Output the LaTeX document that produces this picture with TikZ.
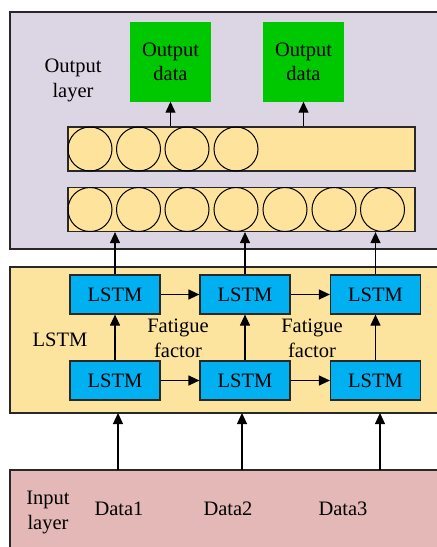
\documentclass[tikz,border=0pt]{standalone}
\usepackage{fontspec}
\setmainfont{Liberation Serif}
\usetikzlibrary{arrows.meta}
\definecolor{outbg}{RGB}{220,214,228}
\definecolor{lstmbg}{RGB}{253,228,158}
\definecolor{inbg}{RGB}{228,184,183}
\definecolor{greenbox}{RGB}{0,200,0}
\definecolor{bluebox}{RGB}{0,176,240}
\definecolor{barfill}{RGB}{253,227,156}
\definecolor{edge}{RGB}{40,40,40}
\begin{document}
\begin{tikzpicture}[x=1pt,y=-1pt,
  txt/.style={font=\fontsize{20.5}{25}\selectfont, align=center, inner sep=0pt},
  panel/.style={draw=edge, line width=1.3pt},
  lstmbox/.style={draw=edge, line width=1.2pt, fill=bluebox, minimum width=90pt, minimum height=39pt, inner sep=0pt, font=\fontsize{20.5}{25}\selectfont},
  outbox/.style={fill=greenbox, minimum width=81pt, minimum height=80pt, inner sep=0pt, font=\fontsize{20.5}{24}\selectfont, align=center},
  bar/.style={draw=edge, line width=1.2pt, fill=barfill, minimum width=347pt, minimum height=44pt, inner sep=0pt},
  unit/.style={circle, draw=black, line width=1pt, minimum size=44pt, inner sep=0pt},
  arr/.style={line width=1.2pt, -{Triangle[length=11pt,width=10pt]}}
]
\clip (0,0) rectangle (437,547);
\fill[white] (0,0) rectangle (437,547);
% panels
\draw[panel, fill=outbg] (10,12) rectangle (450,249);
\draw[panel, fill=lstmbg] (10,267) rectangle (450,413);
\draw[panel, fill=inbg] (10,470) rectangle (450,560);
% output layer
\node[txt] (outlabel) at (73,80) {Output\\layer};
\node[outbox] (o1) at (170.5,61.5) {Output\\data};
\node[outbox] (o2) at (303.5,61.5) {Output\\data};
\node[bar] (bar1) at (241.5,149) {};
\node[bar] (bar2) at (241.5,209.5) {};
\foreach \i/\x in {1/90,2/138.5,3/187,4/236}{
  \node[unit] (u\i) at (\x,149) {};
}
\foreach \i/\x in {1/90,2/138.5,3/187,4/236,5/285,6/334,7/382.5}{
  \node[unit] (v\i) at (\x,209.5) {};
}
\draw[arr] (bar1.north -| o1.south) -- (o1.south);
\draw[arr] (bar1.north -| o2.south) -- (o2.south);
% LSTM layer
\node[txt] (lstmlabel) at (60,340) {LSTM};
\node[lstmbox] (t1) at (115,294.5) {LSTM};
\node[lstmbox] (t2) at (245,294.5) {LSTM};
\node[lstmbox] (t3) at (375.5,294.5) {LSTM};
\node[lstmbox] (b1) at (115,380.5) {LSTM};
\node[lstmbox] (b2) at (245,380.5) {LSTM};
\node[lstmbox] (b3) at (375.5,380.5) {LSTM};
\node[txt] (ff1) at (178,338) {Fatigue\\factor};
\node[txt] (ff2) at (312,338) {Fatigue\\factor};
\draw[arr] (t1) -- (t2);
\draw[arr] (t2) -- (t3);
\draw[arr] (b1) -- (b2);
\draw[arr] (b2) -- (b3);
\draw[arr] (b1) -- (t1);
\draw[arr] (b2) -- (t2);
\draw[arr] (b3) -- (t3);
\draw[arr] (t1.north) -- (t1.north |- bar2.south);
\draw[arr] (t2.north) -- (t2.north |- bar2.south);
\draw[arr] (t3.north) -- (t3.north |- bar2.south);
% input layer
\node[txt] (inlabel) at (48,512) {Input\\layer};
\node[txt] (d1) at (119,509) {Data1};
\node[txt] (d2) at (228,509) {Data2};
\node[txt] (d3) at (343,509) {Data3};
\coordinate (i1) at (118,470);
\coordinate (i2) at (242,470);
\coordinate (i3) at (380,470);
\coordinate (l1) at (118,413);
\coordinate (l2) at (242,413);
\coordinate (l3) at (380,413);
\draw[arr] (i1) -- (l1);
\draw[arr] (i2) -- (l2);
\draw[arr] (i3) -- (l3);
\end{tikzpicture}
\end{document}
